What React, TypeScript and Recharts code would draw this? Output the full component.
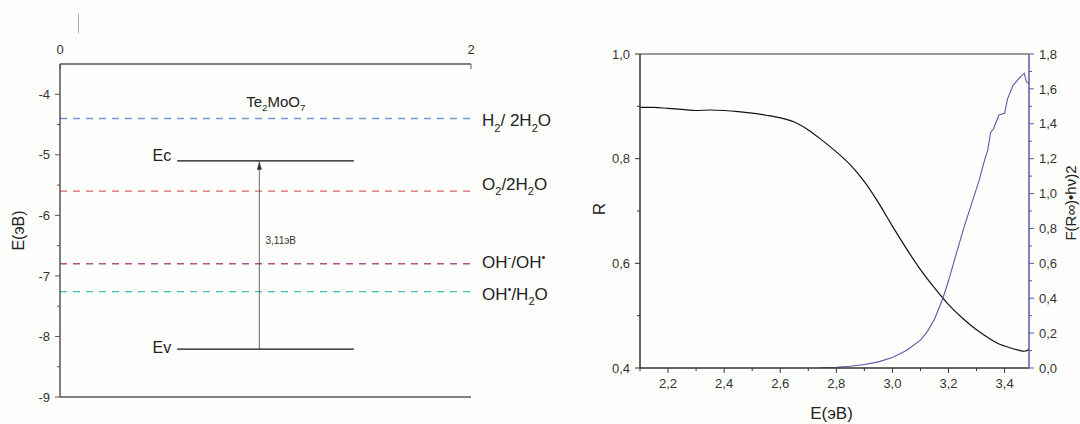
import React from 'react';
import { ComposedChart, Line, XAxis, YAxis, ReferenceLine, ReferenceDot } from 'recharts';

// ---------- Left panel data ----------
const compoundParts: [string, string][] = [['Te', 'n'], ['2', 'sub'], ['MoO', 'n'], ['7', 'sub']];
const levelValues = [-4.4, -5.6, -6.8, -7.26];
const levelLabelParts: [string, string][][] = [
  [['H', 'n'], ['2', 'sub'], ['/ 2H', 'n'], ['2', 'sub'], ['O', 'n']],
  [['O', 'n'], ['2', 'sub'], ['/2H', 'n'], ['2', 'sub'], ['O', 'n']],
  [['OH', 'n'], ['-', 'sup'], ['/OH', 'n'], ['•', 'sup']],
  [['OH', 'n'], ['•', 'sup'], ['/H', 'n'], ['2', 'sub'], ['O', 'n']],
];
const bandEdges = [0.57, 1.43];
const ecLevel = -5.1;
const evLevel = -8.21;
const gapX = 0.97;
const gapLabel = '3,11эВ';
const gapLabelPos = [1.0, -6.4];
const compoundPos = [1.05, -4.12];
const leftXTicks = [0, 2];
const leftYTicks = [-9, -8.5, -8, -7.5, -7, -6.5, -6, -5.5, -5, -4.5, -4];
const leftYMajor = [-9, -8, -7, -6, -5, -4];

// ---------- Right panel data ----------
const rEnergy = [2.1, 2.15, 2.2, 2.25, 2.3, 2.35, 2.4, 2.45, 2.5, 2.55, 2.6, 2.65, 2.7, 2.75, 2.8, 2.85, 2.9, 2.95, 3.0, 3.05, 3.1, 3.15, 3.2, 3.25, 3.3, 3.35, 3.38, 3.4, 3.45, 3.47, 3.487];
const rValues = [0.898, 0.898, 0.896, 0.894, 0.892, 0.893, 0.892, 0.89, 0.887, 0.883, 0.878, 0.87, 0.855, 0.835, 0.813, 0.788, 0.756, 0.716, 0.671, 0.628, 0.588, 0.553, 0.521, 0.495, 0.473, 0.455, 0.446, 0.442, 0.434, 0.432, 0.436];
const fEnergy = [2.735, 2.8, 2.85, 2.9, 2.95, 3.0, 3.05, 3.1, 3.125, 3.15, 3.18, 3.2, 3.225, 3.256, 3.29, 3.31, 3.33, 3.34, 3.35, 3.36, 3.38, 3.4, 3.41, 3.43, 3.457, 3.47, 3.478, 3.487];
const fValues = [0, 0.004, 0.01, 0.02, 0.035, 0.06, 0.1, 0.16, 0.21, 0.28, 0.4, 0.5, 0.64, 0.81, 0.98, 1.08, 1.2, 1.25, 1.35, 1.37, 1.45, 1.46, 1.54, 1.62, 1.67, 1.69, 1.64, 1.63];
const rightXTicks = [2.1, 2.2, 2.3, 2.4, 2.5, 2.6, 2.7, 2.8, 2.9, 3.0, 3.1, 3.2, 3.3, 3.4];
const rightXMajor = [2.2, 2.4, 2.6, 2.8, 3.0, 3.2, 3.4];
const rTicks = [0.4, 0.5, 0.6, 0.7, 0.8, 0.9, 1.0];
const rMajor = [0.4, 0.6, 0.8, 1.0];
const fTicks = [0, 0.1, 0.2, 0.3, 0.4, 0.5, 0.6, 0.7, 0.8, 0.9, 1.0, 1.1, 1.2, 1.3, 1.4, 1.5, 1.6, 1.7, 1.8];
const fMajor = [0, 0.2, 0.4, 0.6, 0.8, 1.0, 1.2, 1.4, 1.6, 1.8];

// ---------- styles ----------
const FONT = "'Liberation Sans', Arial, sans-serif";
const levelColors = ['#6f98d4', '#e06464', '#b0508c', '#3fbfb4'];
const levelLabelShift = [8, -1, 4, 8];

const rData = rEnergy.map((x, i) => ({ x, y: rValues[i] }));
const fData = fEnergy.map((x, i) => ({ x, y: fValues[i] }));
const ecData = bandEdges.map((x) => ({ x, y: ecLevel }));
const evData = bandEdges.map((x) => ({ x, y: evLevel }));
const arrowData = [{ x: gapX, y: evLevel }, { x: gapX, y: ecLevel }];

const comma = (v: number) => v.toFixed(1).replace('.', ',');

function RichText({ parts, x, y, size, anchor = 'start', fill = '#222' }: any) {
  let cur = 0;
  const spans = parts.map(([t, k]: [string, string], i: number) => {
    const target = k === 'sub' ? size * 0.3 : k === 'sup' ? -size * 0.4 : 0;
    const dy = target - cur;
    cur = target;
    return (
      <tspan key={i} dy={dy} fontSize={k === 'n' ? size : size * 0.65}>
        {t}
      </tspan>
    );
  });
  return (
    <text x={x} y={y} fontFamily={FONT} fontSize={size} fill={fill} textAnchor={anchor}>
      {spans}
    </text>
  );
}

function Tick(props: any) {
  const { x, y, payload, side, majors, fmt, color, textColor, fontSize, gap } = props;
  const v = payload.value;
  const isMajor = majors.some((m: number) => Math.abs(m - v) < 1e-6);
  const len = isMajor ? 5 : 3;
  const label = isMajor ? fmt(v) : '';
  const common = { fontFamily: FONT, fontSize, fill: textColor };
  if (side === 'left') {
    return (
      <g>
        <line x1={x - len} x2={x} y1={y} y2={y} stroke={color} strokeWidth={1} />
        <text x={x - 5 - gap} y={y + fontSize * 0.36} textAnchor="end" {...common}>{label}</text>
      </g>
    );
  }
  if (side === 'right') {
    return (
      <g>
        <line x1={x} x2={x + len} y1={y} y2={y} stroke={color} strokeWidth={1} />
        <text x={x + 5 + gap} y={y + fontSize * 0.36} textAnchor="start" {...common}>{label}</text>
      </g>
    );
  }
  if (side === 'bottom') {
    return (
      <g>
        <line x1={x} x2={x} y1={y} y2={y + len} stroke={color} strokeWidth={1} />
        <text x={x} y={y + 20} textAnchor="middle" {...common}>{label}</text>
      </g>
    );
  }
  return (
    <g>
      <line x1={x} x2={x} y1={y} y2={y + 5} stroke={color} strokeWidth={1} />
      <text x={x} y={y - 10} textAnchor="middle" {...common}>{label}</text>
    </g>
  );
}

function ArrowDot(props: any) {
  const { cx, cy, index } = props;
  if (index !== 1) return <g key={'a' + index} />;
  return <polygon key={'a' + index} points={`${cx},${cy + 1} ${cx - 2.5},${cy + 9} ${cx + 2.5},${cy + 9}`} fill="#333" />;
}

function LeftPanel() {
  const axisColor = '#555';
  return (
    <ComposedChart width={560} height={424} margin={{ top: 49, right: 89, bottom: 27, left: 0 }}>
      <XAxis
        type="number"
        dataKey="x"
        orientation="top"
        domain={[0, 2]}
        ticks={leftXTicks}
        interval={0}
        height={15}
        allowDataOverflow
        stroke={axisColor}
        strokeWidth={1.5}
        tickLine={false}
        tickSize={0}
        tickMargin={0}
        tick={(p: any) => (
          <Tick {...p} side="top" majors={leftXTicks} fmt={(v: number) => String(v)} color={axisColor} textColor="#333" fontSize={13} gap={0} />
        )}
      />
      <YAxis
        type="number"
        domain={[-9, -3.5]}
        ticks={leftYTicks}
        interval={0}
        width={60}
        allowDataOverflow
        stroke={axisColor}
        strokeWidth={1.5}
        tickLine={false}
        tickSize={0}
        tickMargin={0}
        tick={(p: any) => (
          <Tick {...p} side="left" majors={leftYMajor} fmt={(v: number) => String(v)} color={axisColor} textColor="#333" fontSize={13} gap={5} />
        )}
        label={{
          content: (p: any) => {
            const vb = p.viewBox || { x: 0, y: 64, width: 60, height: 333 };
            const cx = vb.x + 18;
            const cy = vb.y + vb.height / 2;
            return (
              <text x={cx} y={cy} transform={`rotate(-90 ${cx} ${cy})`} textAnchor="middle" dominantBaseline="central" fontFamily={FONT} fontSize={16} fill="#222">
                E(эВ)
              </text>
            );
          },
        }}
      />
      <ReferenceLine y={-9} stroke={axisColor} strokeWidth={1.5} />
      {levelValues.map((v, i) => (
        <ReferenceLine
          key={'lv' + i}
          y={v}
          stroke={levelColors[i]}
          strokeWidth={1.4}
          strokeDasharray="7 6"
          label={{
            content: (p: any) => {
              const vb = p.viewBox || { x: 60, y: 0, width: 411 };
              return <RichText parts={levelLabelParts[i]} x={vb.x + vb.width + 11} y={vb.y + levelLabelShift[i]} size={17} />;
            },
          }}
        />
      ))}
      <Line data={ecData} dataKey="y" stroke="#111" strokeWidth={1.3} dot={false} isAnimationActive={false} />
      <Line data={evData} dataKey="y" stroke="#111" strokeWidth={1.3} dot={false} isAnimationActive={false} />
      <Line data={arrowData} dataKey="y" stroke="#444" strokeWidth={0.8} dot={(p: any) => <ArrowDot {...p} />} isAnimationActive={false} />
      <ReferenceDot
        x={bandEdges[0]}
        y={ecLevel}
        r={0}
        stroke="none"
        fill="none"
        label={{
          content: (p: any) => {
            const vb = p.viewBox || { x: 177, y: 161 };
            return <text x={vb.x - 6} y={vb.y} textAnchor="end" fontFamily={FONT} fontSize={16} fill="#222">Ec</text>;
          },
        }}
      />
      <ReferenceDot
        x={bandEdges[0]}
        y={evLevel}
        r={0}
        stroke="none"
        fill="none"
        label={{
          content: (p: any) => {
            const vb = p.viewBox || { x: 177, y: 349 };
            return <text x={vb.x - 6} y={vb.y + 4} textAnchor="end" fontFamily={FONT} fontSize={16} fill="#222">Ev</text>;
          },
        }}
      />
      <ReferenceDot
        x={gapLabelPos[0]}
        y={gapLabelPos[1]}
        r={0}
        stroke="none"
        fill="none"
        label={{
          content: (p: any) => {
            const vb = p.viewBox || { x: 265, y: 239 };
            return <text x={vb.x} y={vb.y + 4} textAnchor="start" fontFamily={FONT} fontSize={10} fill="#333">{gapLabel}</text>;
          },
        }}
      />
      <ReferenceDot
        x={compoundPos[0]}
        y={compoundPos[1]}
        r={0}
        stroke="none"
        fill="none"
        label={{
          content: (p: any) => {
            const vb = p.viewBox || { x: 276, y: 104 };
            return <RichText parts={compoundParts} x={vb.x} y={vb.y + 5} size={15} anchor="middle" />;
          },
        }}
      />
    </ComposedChart>
  );
}

function RightPanel() {
  const dark = '#333';
  const blue = '#5a5aa6';
  return (
    <ComposedChart width={520} height={424} margin={{ top: 54, right: 0, bottom: 0, left: 0 }}>
      <XAxis
        type="number"
        dataKey="x"
        domain={[2.1, 3.487]}
        ticks={rightXTicks}
        interval={0}
        height={56}
        allowDataOverflow
        stroke={dark}
        strokeWidth={1.5}
        tickLine={false}
        tickSize={0}
        tickMargin={0}
        tick={(p: any) => (
          <Tick {...p} side="bottom" majors={rightXMajor} fmt={comma} color={dark} textColor="#333" fontSize={13} gap={0} />
        )}
        label={{
          content: (p: any) => {
            const vb = p.viewBox || { x: 80, y: 368, width: 389, height: 56 };
            return (
              <text x={vb.x + vb.width / 2 - 3} y={vb.y + 51} textAnchor="middle" fontFamily={FONT} fontSize={17} fill="#222">
                E(эВ)
              </text>
            );
          },
        }}
      />
      <YAxis
        yAxisId="R"
        type="number"
        domain={[0.4, 1.0]}
        ticks={rTicks}
        interval={0}
        width={80}
        allowDataOverflow
        stroke={dark}
        strokeWidth={1.5}
        tickLine={false}
        tickSize={0}
        tickMargin={0}
        tick={(p: any) => (
          <Tick {...p} side="left" majors={rMajor} fmt={comma} color={dark} textColor="#333" fontSize={13} gap={5} />
        )}
        label={{
          content: (p: any) => {
            const vb = p.viewBox || { x: 0, y: 54, width: 80, height: 314 };
            const cx = vb.x + 39;
            const cy = vb.y + vb.height / 2 - 2;
            return (
              <text x={cx} y={cy} transform={`rotate(-90 ${cx} ${cy})`} textAnchor="middle" dominantBaseline="central" fontFamily={FONT} fontSize={17} fill="#222">
                R
              </text>
            );
          },
        }}
      />
      <YAxis
        yAxisId="F"
        orientation="right"
        type="number"
        domain={[0, 1.8]}
        ticks={fTicks}
        interval={0}
        width={51}
        allowDataOverflow
        stroke={blue}
        strokeWidth={1.5}
        tickLine={false}
        tickSize={0}
        tickMargin={0}
        tick={(p: any) => (
          <Tick {...p} side="right" majors={fMajor} fmt={comma} color={blue} textColor="#333" fontSize={13} gap={5} />
        )}
        label={{
          content: (p: any) => {
            const vb = p.viewBox || { x: 469, y: 54, width: 51, height: 314 };
            const cx = vb.x + 41;
            const cy = vb.y + vb.height / 2 - 8;
            return (
              <text x={cx} y={cy} transform={`rotate(-90 ${cx} ${cy})`} textAnchor="middle" dominantBaseline="central" fontFamily={FONT} fontSize={15} fill="#222">
                F(R∞)•hν)2
              </text>
            );
          },
        }}
      />
      <ReferenceLine yAxisId="R" y={1.0} stroke="#777" strokeWidth={1.5} />
      <Line yAxisId="R" type="monotone" data={rData} dataKey="y" stroke="#111" strokeWidth={1.2} dot={false} isAnimationActive={false} />
      <Line yAxisId="F" data={fData} dataKey="y" stroke={blue} strokeWidth={1.1} dot={false} isAnimationActive={false} />
    </ComposedChart>
  );
}

export default function App() {
  return (
    <div style={{ position: 'absolute', left: 0, top: 0, width: 1080, height: 424, background: '#fefefc', overflow: 'hidden' }}>
      <div style={{ position: 'absolute', left: 78, top: 14, width: 1, height: 19, background: '#aaa' }} />
      <div style={{ position: 'absolute', left: 0, top: 0 }}>
        <LeftPanel />
      </div>
      <div style={{ position: 'absolute', left: 560, top: 0 }}>
        <RightPanel />
      </div>
    </div>
  );
}
